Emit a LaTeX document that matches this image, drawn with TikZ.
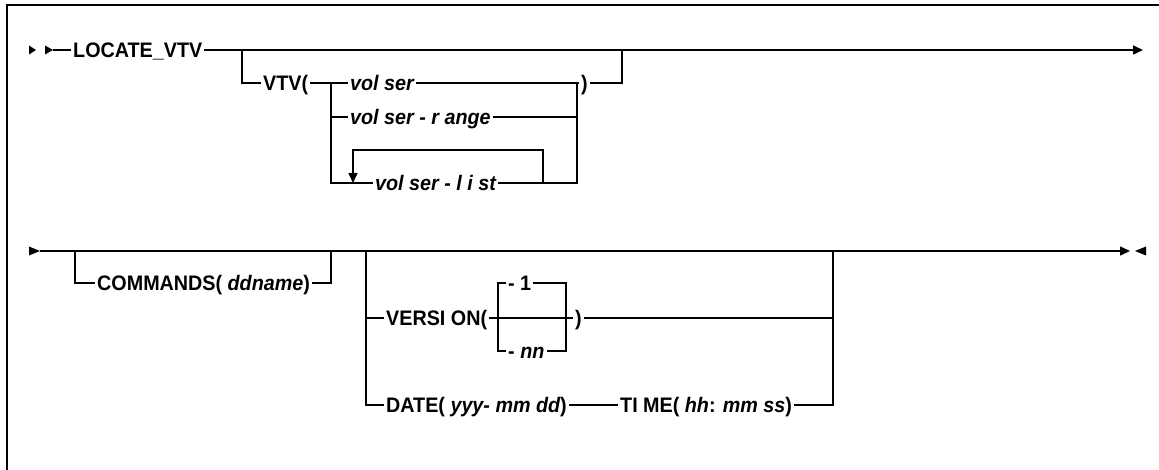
\documentclass[tikz,border=0pt]{standalone}
\usepackage{fontspec}
\setmainfont{Liberation Sans}[FakeStretch=0.94]
\usepackage{tikz}
\usetikzlibrary{arrows.meta}

\begin{document}
\begin{tikzpicture}[
    x=1pt, y=-1pt,
    kw/.style={anchor=west, inner xsep=2pt, inner ysep=0pt, text height=15pt, text depth=0pt,
               font=\fontsize{21}{25}\selectfont\bfseries},
    line/.style={line width=1.6pt},
    arrow/.style={line width=1.6pt, -{Triangle[length=10pt,width=9pt]}},
    frame/.style={line width=2pt}
]
    \useasboundingbox (0,0) rectangle (1159,470);
    \draw[frame] (7,470) -- (7,5) -- (1159,5);

    % first line
    \fill (29,45.5) -- (36,50) -- (29,54.5) -- cycle;
    \fill (45,45.5) -- (53,50) -- (45,54.5) -- cycle;
    \coordinate (s1) at (53,50);
    \coordinate (e1) at (1143,50);
    \node[kw] (locate) at (71,50) {LOCATE\_VTV};
    \node[kw] (vtv) at (261,83) {VTV(\hspace{4pt}};
    \node[kw] (volser) at (348,83) {\itshape vol ser};
    \node[kw] (range) at (348,117) {\itshape vol ser - r ange};
    \node[kw] (list) at (373,183) {\itshape vol ser - l i st};
    \node[kw] (close) at (579,83) {)\hspace{4pt}};

    \coordinate (b1) at (242,50);
    \coordinate (b2) at (622,50);
    \coordinate (jl) at (331,83);
    \coordinate (jr) at (577,83);
    \coordinate (ll) at (353,183);
    \coordinate (lr) at (543,183);

    \draw[line] (s1) -- (locate.west);
    \draw[arrow] (locate.east) -- (e1);
    \draw[line] (b1) |- (vtv.west);
    \draw[line] (vtv.east) -- (volser.west);
    \draw[line] (volser.east) -- (close.west);
    \draw[line] (close.east) -| (b2);
    \draw[line] (jl) |- (list.west);
    \draw[line] (jl |- range.west) -- (range.west);
    \draw[line] (range.east) -| (jr);
    \draw[line] (list.east) -| (jr);
    % repeat loop
    \draw[arrow] (lr) -- ++(0,-33) -| (ll);

    % second line
    \fill (29,246.5) -- (40,251) -- (29,255.5) -- cycle;
    \fill (1146,246.5) -- (1135,251) -- (1146,255.5) -- cycle;
    \coordinate (s2) at (40,251);
    \coordinate (e2) at (1130,251);
    \node[kw] (commands) at (95,283) {COMMANDS( \itshape ddname\upshape)\hspace{4pt}};
    \node[kw] (version) at (384,318) {VERSI ON(\hspace{4pt}};
    \node[kw] (one) at (506,283) {- 1};
    \node[kw] (nn) at (506,351) {- \itshape nn};
    \node[kw] (vclose) at (573,318) {)\hspace{4pt}};
    \node[kw] (date) at (384,405) {DATE( \itshape yyy- mm dd\upshape)\hspace{4pt}};
    \node[kw] (time) at (618,405) {TI ME( \itshape hh\upshape: \itshape mm ss\upshape)\hspace{4pt}};

    \coordinate (c1) at (75,251);
    \coordinate (c2) at (331,251);
    \coordinate (g1) at (366,251);
    \coordinate (g2) at (833,251);
    \coordinate (v1) at (498,318);
    \coordinate (v2) at (566,318);

    \draw[arrow] (s2) -- (e2);
    \draw[line] (c1) |- (commands.west);
    \draw[line] (commands.east) -| (c2);
    \draw[line] (g1) |- (version.west);
    \draw[line] (g1) |- (date.west);
    \draw[line] (version.east) -- (vclose.west);
    \draw[line] (one.west) -| (v1) |- (nn.west);
    \draw[line] (one.east) -| (v2) |- (nn.east);
    \draw[line] (vclose.east) -| (g2);
    \draw[line] (date.east) -- (time.west);
    \draw[line] (time.east) -| (g2);
\end{tikzpicture}
\end{document}
